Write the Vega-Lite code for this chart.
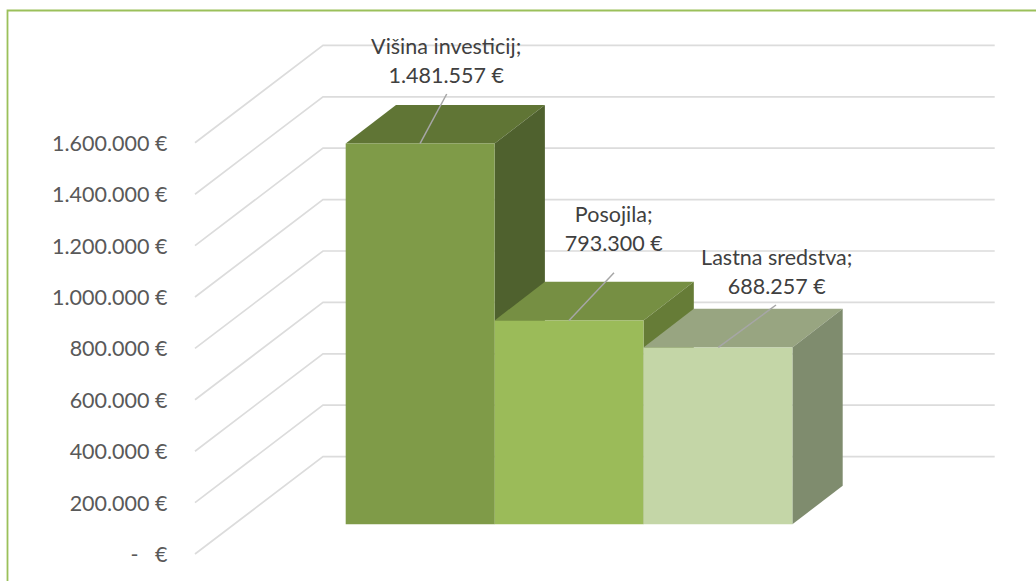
{
"$schema":"https://vega.github.io/schema/vega-lite/v6.json",
"width":1028.5,"height":570.5,
"autosize":"none",
"padding":{"left":7.5,"top":10.5,"right":0,"bottom":0},
"background":"white",
"config":{"view":{"stroke":null},"text":{"font":"Lato"},"axis":{"labelFont":"Lato"}},
"datasets":{
"frame":[{"x":-2.2713,"y":-105058},{"x":-2.2713,"y":2114786},{"x":4.636,"y":2114786}],
"grid":[
{"level":0,"x":-1.0121,"y":0},{"level":0,"x":-0.1525,"y":379000},{"level":0,"x":4.3587,"y":379000},
{"level":200000,"x":-1.0121,"y":200000},{"level":200000,"x":-0.1525,"y":579000},{"level":200000,"x":4.3587,"y":579000},
{"level":400000,"x":-1.0121,"y":400000},{"level":400000,"x":-0.1525,"y":779000},{"level":400000,"x":4.3587,"y":779000},
{"level":600000,"x":-1.0121,"y":600000},{"level":600000,"x":-0.1525,"y":979000},{"level":600000,"x":4.3587,"y":979000},
{"level":800000,"x":-1.0121,"y":800000},{"level":800000,"x":-0.1525,"y":1179000},{"level":800000,"x":4.3587,"y":1179000},
{"level":1000000,"x":-1.0121,"y":1000000},{"level":1000000,"x":-0.1525,"y":1379000},{"level":1000000,"x":4.3587,"y":1379000},
{"level":1200000,"x":-1.0121,"y":1200000},{"level":1200000,"x":-0.1525,"y":1579000},{"level":1200000,"x":4.3587,"y":1579000},
{"level":1400000,"x":-1.0121,"y":1400000},{"level":1400000,"x":-0.1525,"y":1779000},{"level":1400000,"x":4.3587,"y":1779000},
{"level":1600000,"x":-1.0121,"y":1600000},{"level":1600000,"x":-0.1525,"y":1979000},{"level":1600000,"x":4.3587,"y":1979000}
],
"faces":[
{"part":"Višina investicij top","x":0,"y":1481557,"y2":1481557},
{"part":"Višina investicij top","x":0.3378,"y":1631757,"y2":1481557},
{"part":"Višina investicij top","x":1,"y":1631757,"y2":1481557},
{"part":"Višina investicij top","x":1.3378,"y":1631757,"y2":1631757},
{"part":"Višina investicij side","x":1,"y":1481557,"y2":0},
{"part":"Višina investicij side","x":1.3378,"y":1631757,"y2":150200},
{"part":"Posojila top","x":1,"y":793300,"y2":793300},
{"part":"Posojila top","x":1.3378,"y":943500,"y2":793300},
{"part":"Posojila top","x":2,"y":943500,"y2":793300},
{"part":"Posojila top","x":2.3378,"y":943500,"y2":943500},
{"part":"Posojila side","x":2,"y":793300,"y2":0},
{"part":"Posojila side","x":2.3378,"y":943500,"y2":150200},
{"part":"Lastna sredstva top","x":2,"y":688257,"y2":688257},
{"part":"Lastna sredstva top","x":2.3378,"y":838457,"y2":688257},
{"part":"Lastna sredstva top","x":3,"y":838457,"y2":688257},
{"part":"Lastna sredstva top","x":3.3378,"y":838457,"y2":838457},
{"part":"Lastna sredstva side","x":3,"y":688257,"y2":0},
{"part":"Lastna sredstva side","x":3.3378,"y":838457,"y2":150200}
],
"bars":[
{"part":"Višina investicij","x0":0,"x1":1,"value":1481557,"label":"Višina investicij;\n1.481.557 €","labelX":0.675,"labelY":1851398},
{"part":"Posojila","x0":1,"x1":2,"value":793300,"label":"Posojila;\n793.300 €","labelX":1.8,"labelY":1197702},
{"part":"Lastna sredstva","x0":2,"x1":3,"value":688257,"label":"Lastna sredstva;\n688.257 €","labelX":2.8945,"labelY":1032287}
],
"leaders":[
{"part":"Višina investicij","x":0.499,"y":1481557},{"part":"Višina investicij","x":0.6783,"y":1674319},
{"part":"Posojila","x":1.4997,"y":793300},{"part":"Posojila","x":1.8019,"y":978988},
{"part":"Lastna sredstva","x":2.5024,"y":688257},{"part":"Lastna sredstva","x":2.8899,"y":853307}
]
},
"resolve":{"scale":{"y":"independent"}},
"layer":[
{"layer":[
{"data":{"name":"grid"},"mark":{"type":"line","stroke":"#DCDCDC","strokeWidth":1.7},
"encoding":{"x":{"field":"x","type":"quantitative","scale":{"domain":[-2.2713,4.636],"nice":false,"zero":false},"axis":null},
"y":{"field":"y","type":"quantitative","scale":{"domain":[-105058,2114786],"nice":false,"zero":false},
"axis":{"orient":"left","title":null,"values":[0,200000,400000,600000,800000,1000000,1200000,1400000,1600000],"offset":-159.5,"domain":false,"ticks":false,"grid":false,"labelPadding":0,"labelOffset":1.5,"labelFontSize":21.5,"labelColor":"#595959","labelFont":"Lato","labelFlush":false,"labelOverlap":false,
"labelExpr":"datum.value === 0 ? '-\u00a0\u00a0\u00a0€' : replace(format(datum.value, ',d'), /,/g, '.') + ' €'"}},
"detail":{"field":"level","type":"nominal"},"order":{"field":"x","type":"quantitative"}}},
{"data":{"name":"frame"},"mark":{"type":"line","stroke":"#9BC05A","strokeWidth":1.8,"clip":false},
"encoding":{"x":{"field":"x","type":"quantitative","axis":null},
"y":{"field":"y","type":"quantitative"},"order":{"field":"y","type":"quantitative"}}}
]},
{"layer":[
{"data":{"name":"faces"},"mark":{"type":"area","line":false,"opacity":1},
"encoding":{"x":{"field":"x","type":"quantitative","scale":{"domain":[-2.2713,4.636],"nice":false,"zero":false},"axis":null},
"y":{"field":"y","type":"quantitative","stack":null,"scale":{"domain":[-220623,1999222],"nice":false,"zero":false},"axis":null},
"y2":{"field":"y2"},
"color":{"field":"part","type":"nominal","legend":null,"scale":{"domain":["Višina investicij","Višina investicij top","Višina investicij side","Posojila","Posojila top","Posojila side","Lastna sredstva","Lastna sredstva top","Lastna sredstva side"],"range":["#7F9B48","#607535","#4F612E","#9BBB59","#768F43","#667C37","#C4D6A7","#98A581","#7F8C6E"]}}}},
{"data":{"name":"bars"},"mark":{"type":"rect"},
"encoding":{"x":{"field":"x0","type":"quantitative","scale":{"domain":[-2.2713,4.636],"nice":false,"zero":false},"axis":null},
"x2":{"field":"x1"},
"y":{"field":"value","type":"quantitative","scale":{"domain":[-220623,1999222],"nice":false,"zero":false},"axis":null},
"y2":{"datum":0},
"color":{"field":"part","type":"nominal","legend":null,"scale":{"domain":["Višina investicij","Višina investicij top","Višina investicij side","Posojila","Posojila top","Posojila side","Lastna sredstva","Lastna sredstva top","Lastna sredstva side"],"range":["#7F9B48","#607535","#4F612E","#9BBB59","#768F43","#667C37","#C4D6A7","#98A581","#7F8C6E"]}}}},
{"data":{"name":"leaders"},"mark":{"type":"line","stroke":"#A6A6A6","strokeWidth":1.5},
"encoding":{"x":{"field":"x","type":"quantitative","scale":{"domain":[-2.2713,4.636],"nice":false,"zero":false},"axis":null},
"y":{"field":"y","type":"quantitative","scale":{"domain":[-220623,1999222],"nice":false,"zero":false},"axis":null},
"detail":{"field":"part","type":"nominal"}}},
{"data":{"name":"bars"},"mark":{"type":"text","font":"Lato","fontSize":21.5,"color":"#404040","lineBreak":"\n","lineHeight":29,"align":"center","baseline":"middle"},
"encoding":{"x":{"field":"labelX","type":"quantitative","scale":{"domain":[-2.2713,4.636],"nice":false,"zero":false},"axis":null},
"y":{"field":"labelY","type":"quantitative","scale":{"domain":[-220623,1999222],"nice":false,"zero":false},"axis":null},
"text":{"field":"label","type":"nominal"}}}
]}
]
}
